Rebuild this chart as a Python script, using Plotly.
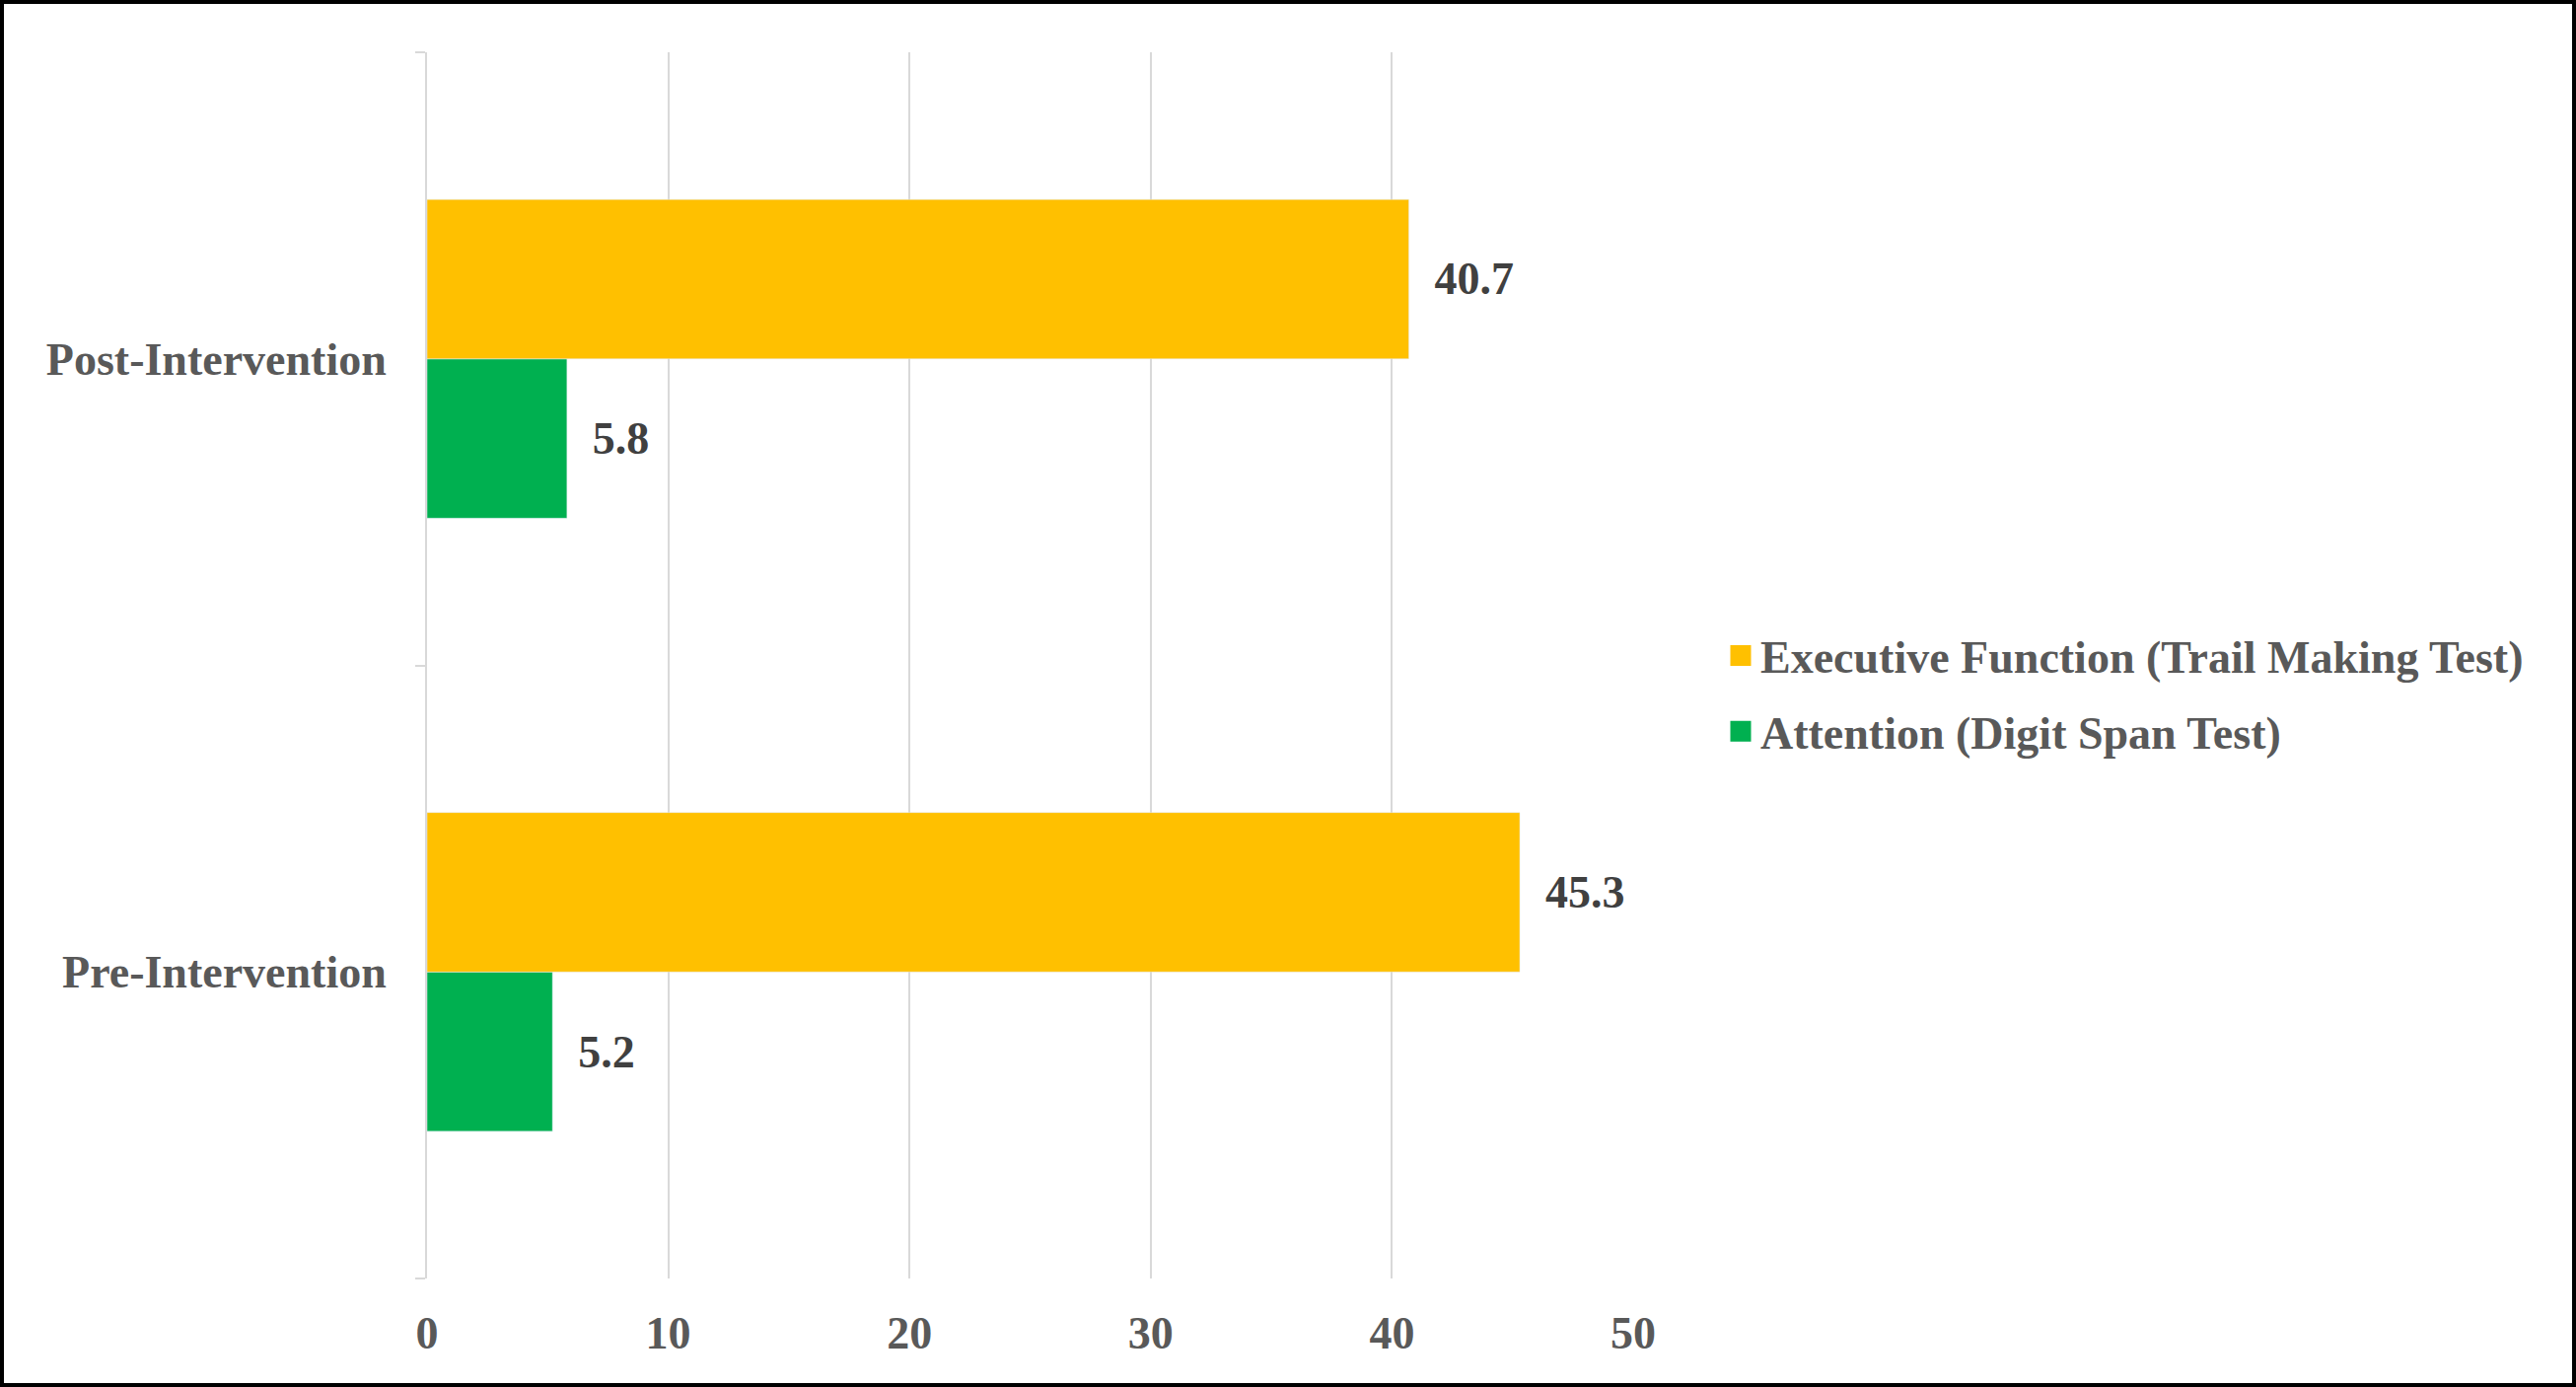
import plotly.graph_objects as go

categories = ["Pre-Intervention", "Post-Intervention"]
attention = [5.2, 5.8]
executive = [45.3, 40.7]
series_names = ["Attention (Digit Span Test)", "Executive Function (Trail Making Test)"]
series_colors = ["#00B050", "#FFC000"]
x_ticks = [0, 10, 20, 30, 40, 50]

W, H = 2612, 1406
L, R, T, B = 433, W - 1656, 53, H - 1296
FONT = "Liberation Serif, Times New Roman, serif"
FS = 46
pad = "\u00a0\u00a0"

fig = go.Figure()
# bars (first trace drawn lowest within each category)
for vals, name, color in [(attention, series_names[0], series_colors[0]),
                          (executive, series_names[1], series_colors[1])]:
    fig.add_trace(go.Bar(
        y=categories, x=vals, orientation="h", name=name,
        marker_color=color, showlegend=False,
        text=[pad + f"{v:.1f}" for v in vals], textposition="outside",
        textfont=dict(family=FONT, size=FS, color="#404040", weight="bold"),
        constraintext="none", cliponaxis=False,
    ))
# legend entries with larger square swatches, Executive Function listed first
for name, color, grp in [(series_names[1], series_colors[1], "b"),
                         (series_names[0], series_colors[0], "a")]:
    fig.add_trace(go.Scatter(
        x=[None], y=[None], mode="markers", name=name, legendgroup=grp,
        marker=dict(symbol="square", size=16, color=color,
                    line=dict(color=color, width=5)),
        showlegend=True, hoverinfo="skip",
    ))

pw = W - L - R
ph = H - T - B
fig.update_layout(
    width=W, height=H,
    margin=dict(l=L, r=R, t=T, b=B, pad=0),
    paper_bgcolor="white", plot_bgcolor="white",
    barmode="group", bargap=0.48, bargroupgap=0,
    font=dict(family=FONT, size=FS, color="#595959", weight="bold"),
    showlegend=True,
    legend=dict(
        traceorder="grouped", x=(1745 - L) / pw, xanchor="left",
        y=(1296 - 703) / ph, yanchor="middle", tracegroupgap=14,
        itemsizing="trace",
        font=dict(family=FONT, size=FS, color="#595959", weight="bold"),
        bgcolor="rgba(0,0,0,0)",
    ),
    xaxis=dict(
        range=[0, 50], tickvals=x_ticks, showgrid=True, gridcolor="#D9D9D9",
        gridwidth=2, zeroline=False, showline=False, ticks="",
        ticklabelstandoff=24,
        tickfont=dict(family=FONT, size=FS, color="#595959", weight="bold"),
    ),
    yaxis=dict(
        type="category", categoryorder="array", categoryarray=categories,
        showline=True, linecolor="#D9D9D9", linewidth=2,
        ticks="outside", tickson="boundaries", ticklen=10, tickcolor="#D9D9D9",
        tickwidth=2, showgrid=False, ticklabelstandoff=30,
        tickfont=dict(family=FONT, size=FS, color="#595959", weight="bold"),
    ),
)

# figure border
bw = 4
fig.add_shape(
    type="rect", xref="paper", yref="paper",
    x0=(-L + bw / 2) / pw, x1=(pw + R - bw / 2) / pw,
    y0=(-B + bw / 2) / ph, y1=(ph + T - bw / 2) / ph,
    line=dict(color="black", width=bw), fillcolor="rgba(0,0,0,0)", layer="above",
)

fig.write_html(
    "out.html",
    config={"displayModeBar": False},
    post_script="document.body.style.margin='0';document.body.style.overflow='hidden';",
)
